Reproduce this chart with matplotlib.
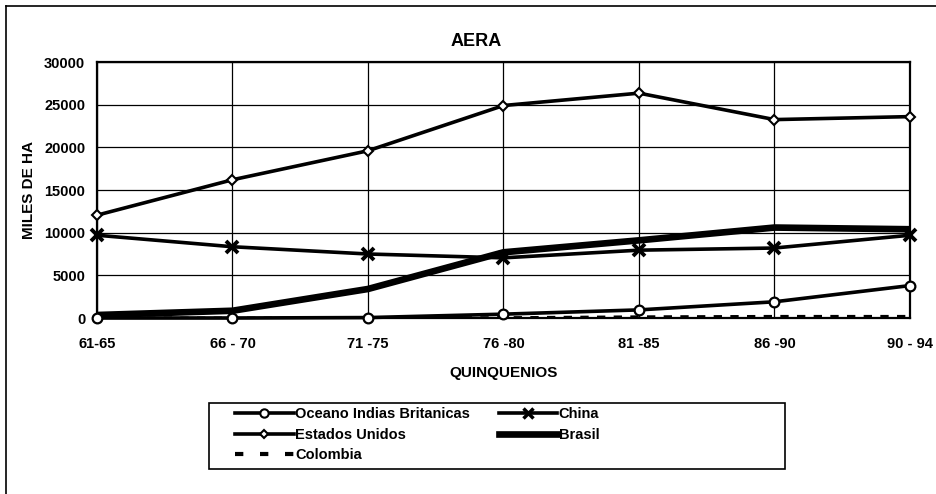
import matplotlib
matplotlib.use("Agg")
import matplotlib.pyplot as plt
from matplotlib.lines import Line2D
from matplotlib.patches import Rectangle

# ── Data ─────────────────────────────────────────────────────────────────────
periods = ["61-65", "66 - 70", "71 -75", "76 -80", "81 -85", "86 -90", "90 - 94"]
oceano = [0, 0, 50, 450, 950, 1900, 3800]
china = [9700, 8350, 7500, 7050, 7950, 8200, 9700]
estados = [12050, 16200, 19600, 24900, 26350, 23250, 23600]
brasil = [350, 850, 3400, 7700, 9100, 10600, 10400]
colombia = [0, 0, 0, 50, 150, 200, 200]

plt.rcParams["font.family"] = ["Liberation Sans", "DejaVu Sans"]
plt.rcParams["font.weight"] = "bold"

W, H = 937, 494
fig = plt.figure(figsize=(W / 100, H / 100), dpi=100, facecolor="white")
ax = fig.add_axes([97 / W, 1 - 318 / H, (910 - 97) / W, (318 - 62) / H])

x = range(len(periods))
ax.plot(x, brasil, color="black", lw=4.8, solid_capstyle="butt", zorder=3, clip_on=False)
ax.plot(x, colombia, color="black", lw=2, ls=(0, (3, 3)), zorder=3)
ax.plot(x, estados, color="black", lw=2.6, marker="D", ms=5, mfc="white",
        mec="black", mew=1.5, zorder=4, clip_on=False)
ax.plot(x, china, color="black", lw=2.6, marker="x", ms=8, mew=2.8, zorder=4, clip_on=False)
ax.plot(x, oceano, color="black", lw=2.6, marker="o", ms=7, mfc="white",
        mec="black", mew=1.6, zorder=5, clip_on=False)

ax.set_xlim(0, len(periods) - 1)
ax.set_ylim(0, 30000)
ax.set_yticks(range(0, 30001, 5000))
ax.set_xticks(list(x))
ax.set_xticklabels(periods)
ax.grid(True, color="black", lw=0.9)
ax.set_axisbelow(True)
ax.tick_params(length=0, labelsize=10.5)
ax.tick_params(axis="x", pad=13.5)
ax.tick_params(axis="y", pad=8.5)
for sp in ax.spines.values():
    sp.set_linewidth(1.6)
    sp.set_color("black")

ax.set_xlabel("QUINQUENIOS", fontsize=11, fontweight="bold", labelpad=11)
ax.set_ylabel("MILES DE HA", fontsize=11, fontweight="bold", labelpad=6)
fig.text(476 / W, 1 - 42 / H, "AERA", ha="center", va="center",
         fontsize=13, fontweight="bold")

# outer chart frame (left and top edges visible)
fig.add_artist(Line2D([6 / W, 6 / W], [0, 1 - 6 / H], transform=fig.transFigure,
                      color="black", lw=1.2))
fig.add_artist(Line2D([6 / W, 1], [1 - 6 / H, 1 - 6 / H], transform=fig.transFigure,
                      color="black", lw=1.2))

# legend frame
fig.add_artist(Rectangle((209 / W, 1 - 469 / H), (785 - 209) / W, (469 - 403) / H,
                         transform=fig.transFigure, fill=False, ec="black", lw=1.2))

h_oc = Line2D([], [], color="black", lw=2.6, marker="o", ms=6, mfc="white", mew=1.5)
h_eu = Line2D([], [], color="black", lw=2.6, marker="D", ms=4.5, mfc="white", mew=1.5)
h_co = Line2D([], [], color="black", lw=3, ls=(0, (2, 4)))
h_ch = Line2D([], [], color="black", lw=2.6, marker="x", ms=7, mew=2.5)
h_br = Line2D([], [], color="black", lw=4.8)
leg = fig.legend([h_oc, h_eu, h_co, h_ch, h_br],
                 ["Oceano Indias Britanicas", "Estados Unidos", "Colombia", "China", "Brasil"],
                 ncol=2, loc="upper left", bbox_to_anchor=(225 / W, 1 - 397 / H),
                 frameon=False, fontsize=10.5, handlelength=4.0, handletextpad=0.1,
                 columnspacing=2.0, labelspacing=0.45, borderpad=0.2)

fig.savefig("out.png", dpi=100, facecolor="white")
